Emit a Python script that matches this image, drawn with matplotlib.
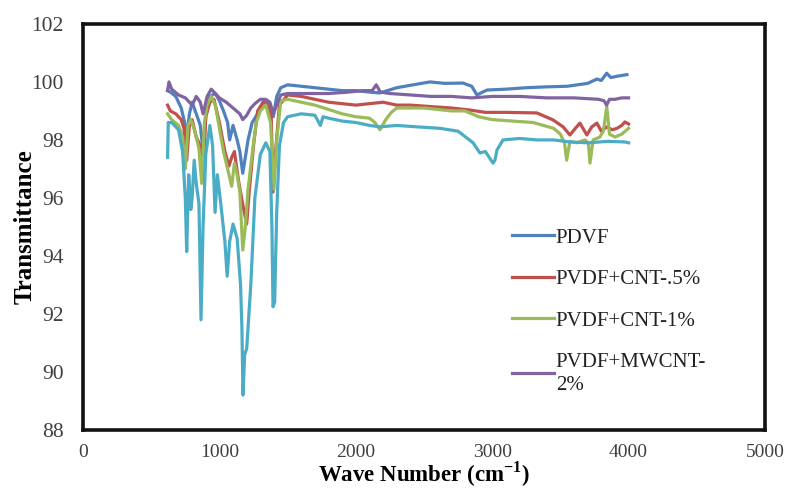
import matplotlib.pyplot as plt

plt.rcParams['font.family'] = ['Liberation Serif', 'DejaVu Serif']
plt.rcParams['mathtext.fontset'] = 'custom'
plt.rcParams['mathtext.rm'] = 'Liberation Serif'
plt.rcParams['mathtext.bf'] = 'Liberation Serif:bold'

# FTIR spectra, transmittance (%) vs wave number (cm-1)
pvdf_x = [620, 640, 680, 720, 745, 760, 780, 800, 830, 860, 880, 900, 930, 970, 1000,
          1030, 1060, 1075, 1100, 1130, 1150, 1171, 1190, 1210, 1240, 1280, 1320, 1350,
          1376, 1395, 1420, 1450, 1500, 1600, 1700, 1800, 1900, 2000, 2100, 2177, 2300,
          2420, 2544, 2650, 2786, 2850, 2888, 2930, 2962, 3100, 3250, 3400, 3550, 3700,
          3768, 3800, 3840, 3870, 3920, 3988]
pvdf_y = [99.7, 99.65, 99.5, 99.1, 98.6, 98.1, 98.9, 99.3, 98.9, 98.5, 97.6, 98.8, 99.5,
          99.6, 99.35, 99.0, 98.6, 98.0, 98.5, 98.0, 97.6, 96.85, 97.4, 98.0, 98.6, 98.9,
          99.3, 99.35, 99.0, 98.8, 99.5, 99.8, 99.9, 99.85, 99.8, 99.75, 99.7, 99.7, 99.65,
          99.62, 99.8, 99.9, 100.0, 99.95, 99.96, 99.85, 99.55, 99.65, 99.72, 99.75, 99.8,
          99.83, 99.85, 99.95, 100.1, 100.05, 100.3, 100.15, 100.2, 100.25]

cnt05_x = [620, 640, 680, 720, 740, 760, 780, 800, 830, 860, 880, 900, 930, 960, 1000,
           1040, 1070, 1090, 1110, 1140, 1170, 1200, 1220, 1250, 1280, 1320, 1360, 1380,
           1393, 1410, 1440, 1500, 1600, 1700, 1800, 1900, 2000, 2100, 2200, 2300, 2400,
           2550, 2700, 2837, 2950, 3100, 3328, 3446, 3520, 3570, 3610, 3643, 3694, 3730,
           3768, 3800, 3840, 3880, 3915, 3950, 3973, 4000]
cnt05_y = [99.2, 99.0, 98.9, 98.7, 98.4, 97.3, 98.5, 98.7, 98.1, 97.8, 96.6, 98.8, 99.3,
           99.4, 98.6, 97.6, 97.1, 97.4, 97.6, 96.6, 95.8, 95.1, 96.3, 97.8, 99.0, 99.3,
           99.2, 98.8, 96.2, 97.5, 99.2, 99.55, 99.5, 99.4, 99.3, 99.25, 99.2, 99.25, 99.3,
           99.2, 99.2, 99.15, 99.1, 99.03, 98.95, 98.95, 98.93, 98.69, 98.45, 98.17, 98.4,
           98.58, 98.17, 98.45, 98.58, 98.3, 98.45, 98.35, 98.4, 98.5, 98.62, 98.55]

cnt1_x = [620, 650, 700, 730, 750, 770, 790, 820, 850, 870, 890, 910, 940, 970, 1000,
          1030, 1060, 1090, 1110, 1130, 1150, 1171, 1190, 1210, 1240, 1270, 1300, 1340,
          1375, 1400, 1420, 1450, 1500, 1600, 1700, 1800, 1900, 2000, 2100, 2140, 2177,
          2220, 2260, 2300, 2400, 2500, 2600, 2700, 2800, 2900, 3000, 3150, 3300, 3450,
          3500, 3530, 3546, 3570, 3620, 3680, 3705, 3717, 3740, 3790, 3815, 3840, 3860,
          3900, 3950, 4000]
cnt1_y = [98.9, 98.7, 98.5, 98.1, 97.0, 98.5, 98.7, 98.3, 97.7, 96.5, 98.6, 99.2, 99.5,
          99.2, 98.4, 97.6, 97.0, 96.4, 97.2, 96.8, 96.2, 94.2, 95.0, 96.3, 97.5, 98.6,
          99.0, 99.2, 98.6, 96.3, 98.0, 99.35, 99.4, 99.3, 99.2, 99.05, 98.9, 98.8, 98.75,
          98.6, 98.35, 98.7, 98.95, 99.1, 99.1, 99.1, 99.05, 99.0, 99.0, 98.8, 98.7, 98.65,
          98.6, 98.4, 98.2, 97.9, 97.3, 97.95, 97.9, 98.0, 97.9, 97.2, 98.0, 98.1, 98.3,
          99.15, 98.2, 98.1, 98.2, 98.4]

mw2_x = [620, 630, 650, 700, 750, 780, 800, 830, 860, 880, 910, 940, 970, 1000, 1050,
         1100, 1150, 1171, 1200, 1230, 1260, 1300, 1340, 1370, 1395, 1420, 1450, 1500,
         1650, 1800, 1950, 2050, 2120, 2150, 2180, 2250, 2400, 2550, 2700, 2850, 3000,
         3200, 3400, 3600, 3780, 3820, 3839, 3860, 3900, 3950, 4000]
mw2_y = [99.7, 100.0, 99.75, 99.55, 99.45, 99.3, 99.2, 99.5, 99.3, 98.9, 99.5, 99.75,
         99.6, 99.45, 99.3, 99.1, 98.9, 98.7, 98.85, 99.1, 99.25, 99.4, 99.4, 99.3, 98.9,
         99.2, 99.55, 99.6, 99.6, 99.6, 99.65, 99.7, 99.7, 99.9, 99.65, 99.6, 99.55, 99.5,
         99.5, 99.45, 99.5, 99.5, 99.45, 99.45, 99.4, 99.35, 99.2, 99.4, 99.4, 99.45, 99.45]

base_x = [620, 625, 650, 700, 730, 750, 760, 775, 790, 800, 815, 830, 850, 865, 880,
          900, 930, 950, 968, 985, 1010, 1040, 1057, 1075, 1100, 1130, 1155, 1165, 1173,
          1185, 1200, 1230, 1260, 1300, 1340, 1370, 1385, 1393, 1405, 1420, 1440, 1470,
          1500, 1600, 1700, 1740, 1760, 1800, 1900, 2000, 2100, 2177, 2300, 2450, 2617,
          2750, 2860, 2910, 2950, 3006, 3020, 3035, 3079, 3200, 3328, 3450, 3570, 3700,
          3850, 3973, 4000]
base_y = [97.4, 98.6, 98.6, 98.35, 97.6, 96.0, 94.15, 96.8, 95.6, 96.0, 97.3, 96.5, 95.8,
          91.8, 95.0, 97.5, 98.5, 97.8, 95.5, 96.8, 95.8, 94.5, 93.3, 94.5, 95.1, 94.6,
          93.0, 91.5, 89.2, 90.6, 90.8, 93.0, 96.0, 97.5, 97.9, 97.6, 95.0, 92.25, 92.4,
          95.5, 97.8, 98.6, 98.8, 98.9, 98.85, 98.5, 98.8, 98.75, 98.65, 98.6, 98.5, 98.45,
          98.5, 98.45, 98.4, 98.3, 97.9, 97.55, 97.6, 97.2, 97.3, 97.65, 98.0, 98.05, 98.0,
          98.0, 97.93, 97.9, 97.95, 97.93, 97.9]

fig = plt.figure(figsize=(7.87, 4.88), dpi=100)
ax = fig.add_axes([0.1055, 0.119, 0.8665, 0.832])

lw = 2.3
ax.plot(pvdf_x, pvdf_y, color='#4F81BD', lw=lw, label='PDVF')
ax.plot(cnt05_x, cnt05_y, color='#C0504D', lw=lw, label='PVDF+CNT-.5%')
ax.plot(cnt1_x, cnt1_y, color='#9BBB59', lw=lw, label='PVDF+CNT-1%')
ax.plot(mw2_x, mw2_y, color='#8064A2', lw=lw, label='PVDF+MWCNT-\n2%')
ax.plot(base_x, base_y, color='#4BACC6', lw=lw)

ax.set_xlim(0, 5000)
ax.set_ylim(88, 102)
ax.set_xticks(range(0, 5001, 1000))
ax.set_yticks(range(88, 103, 2))
ax.tick_params(length=0, labelcolor='#404040')
ax.tick_params(axis='x', labelsize=14, pad=10)
ax.tick_params(axis='y', labelsize=15.5, pad=14)
for s in ax.spines.values():
    s.set_linewidth(2.6)
    s.set_color('#111111')

ax.set_xlabel('Wave Number (cm$^{\\mathbf{-1}}$)', fontsize=16.5, fontweight='bold', labelpad=-1)
ax.set_ylabel('Transmittance', fontsize=18, fontweight='bold', labelpad=-4)

leg = ax.legend(loc='upper left', bbox_to_anchor=(0.629, 0.497), frameon=False, fontsize=15,
                handlelength=2.0, handletextpad=0.1, labelspacing=1.05, borderpad=0,
                borderaxespad=0, labelcolor='#222222')
for t in leg.get_texts():
    t.set_linespacing(1.3)

fig.savefig('out.png', dpi=100)
